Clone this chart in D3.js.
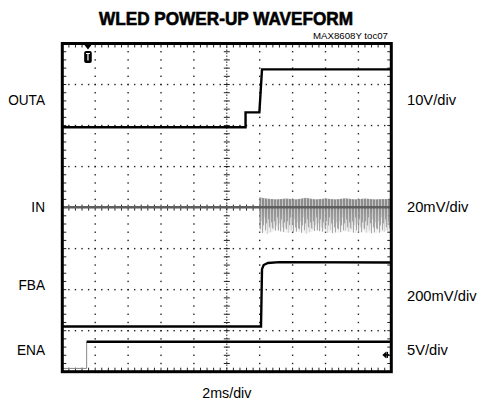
<!DOCTYPE html>
<html>
<head>
<meta charset="utf-8">
<script src="https://cdn.jsdelivr.net/npm/d3@7"></script>
<style>
  html, body { margin: 0; padding: 0; background: #fff; }
  svg { display: block; }
  text { font-family: "Liberation Sans", Arial, sans-serif; fill: #000; }
</style>
</head>
<body>
<svg id="chart" width="479" height="404"></svg>
<script>
// ---- Data (time in divisions 0..10 at 2ms/div, level in screen divisions 0..8) ----
const title = "WLED POWER-UP WAVEFORM";
const figId = "MAX8608Y toc07";
const xLabel = "2ms/div";
const channelNames = ["OUTA", "IN", "FBA", "ENA"];
const channelScales = ["10V/div", "20mV/div", "200mV/div", "5V/div"];
const channelLabelLevel = [6.64, 4.04, 2.12, 0.55];
const scaleLabelLevel = [6.64, 4.04, 1.85, 0.55];

const outaT = [0, 5.57, 5.57, 5.99, 6.07, 10];
const outaV = [5.96, 5.96, 6.32, 6.32, 7.37, 7.37];

const inT = [0, 10];
const inV = [4.01, 4.01];
const inNoiseT = [5.99, 6.2, 6.5, 6.8, 7.1, 7.4, 7.7, 8.0, 8.3, 8.6, 8.9, 9.2, 9.5, 9.8, 10];
const inNoiseHi = [4.25, 4.22, 4.2, 4.22, 4.2, 4.24, 4.2, 4.22, 4.2, 4.23, 4.2, 4.22, 4.2, 4.21, 4.2];
const inNoiseLo = [3.4, 3.35, 3.45, 3.38, 3.42, 3.36, 3.44, 3.4, 3.37, 3.43, 3.38, 3.4, 3.36, 3.42, 3.45];

const fbaT = [0, 6.04, 6.07, 6.12, 6.25, 6.6, 10];
const fbaV = [1.10, 1.10, 2.5, 2.6, 2.65, 2.67, 2.66];

const enaLowT = [0, 0.74, 0.74];
const enaLowV = [0.08, 0.08, 0.73];
const enaT = [0.74, 10];
const enaV = [0.73, 0.73];

const triggerT = 0.78;
const groundMarkerV = 0.41;

// ---- Layout ----
const svg = d3.select("#chart");
const W = 479, H = 404;
const pL = 62.3, pR = 391.3, pT = 43.5, pB = 371.7;
const x = d3.scaleLinear().domain([0, 10]).range([pL, pR]);
const y = d3.scaleLinear().domain([0, 8]).range([pB, pT]);

svg.append("rect").attr("width", W).attr("height", H).attr("fill", "#fff");

const defs = svg.append("defs");
const grad = defs.append("linearGradient").attr("id", "noiseGrad")
  .attr("x1", 0).attr("y1", 0).attr("x2", 0).attr("y2", 1);
grad.append("stop").attr("offset", "0%").attr("stop-color", "#8a8a8a").attr("stop-opacity", 0.9);
grad.append("stop").attr("offset", "40%").attr("stop-color", "#a5a5a5").attr("stop-opacity", 0.8);
grad.append("stop").attr("offset", "100%").attr("stop-color", "#e0e0e0").attr("stop-opacity", 0.3);
// irregular spike texture (style only)
const bandTop = y(4.25);
const pat = defs.append("pattern").attr("id", "spikes").attr("patternUnits", "userSpaceOnUse")
  .attr("width", 13).attr("height", 40).attr("patternTransform", `translate(0,${bandTop})`);
const spikeLen = [30, 22, 34, 26, 18, 31, 24, 35, 20, 28, 33, 23, 29];
pat.selectAll("rect").data(spikeLen).enter().append("rect")
  .attr("x", (d, i) => i).attr("y", 2).attr("width", 0.8).attr("height", d => d)
  .attr("fill", "#808080").attr("opacity", 0.8);
const pat2 = defs.append("pattern").attr("id", "gaps").attr("patternUnits", "userSpaceOnUse")
  .attr("width", 3).attr("height", 5);
pat2.append("rect").attr("x", 0).attr("y", 0).attr("width", 1).attr("height", 5).attr("fill", "#fff").attr("opacity", 0.5);

// ---- Grid ----
const grid = svg.append("g");
const minorT = d3.range(1, 50).map(k => k / 5);
const minorV = d3.range(1, 40).map(k => k / 5);
[1, 2, 3, 5, 6, 7].forEach(v => {
  grid.selectAll(null).data(minorT).enter().append("rect")
    .attr("x", d => x(d) - 0.7).attr("y", y(v) - 0.7).attr("width", 1.4).attr("height", 1.4).attr("fill", "#222");
});
[1, 2, 3, 4, 6, 7, 8, 9].forEach(t => {
  grid.selectAll(null).data(minorV).enter().append("rect")
    .attr("x", x(t) - 0.7).attr("y", d => y(d) - 0.7).attr("width", 1.4).attr("height", 1.4).attr("fill", "#222");
});
// center axes with ticks
grid.append("line").attr("x1", x(5)).attr("x2", x(5)).attr("y1", pT).attr("y2", pB)
  .attr("stroke", "#333").attr("stroke-width", 1).attr("stroke-dasharray", "1.5,1.5");
grid.selectAll(null).data(minorV).enter().append("line")
  .attr("x1", x(5) - 3).attr("x2", x(5) + 3).attr("y1", d => y(d)).attr("y2", d => y(d))
  .attr("stroke", "#222").attr("stroke-width", 1);
grid.append("line").attr("x1", pL).attr("x2", pR).attr("y1", y(4)).attr("y2", y(4))
  .attr("stroke", "#333").attr("stroke-width", 1).attr("stroke-dasharray", "1.5,1.5");
grid.selectAll(null).data(minorT).enter().append("line")
  .attr("x1", d => x(d)).attr("x2", d => x(d)).attr("y1", y(4) - 3).attr("y2", y(4) + 3)
  .attr("stroke", "#222").attr("stroke-width", 1);
// frame edge ticks
grid.selectAll(null).data(minorT).enter().append("line")
  .attr("x1", d => x(d)).attr("x2", d => x(d)).attr("y1", pT).attr("y2", pT + 4)
  .attr("stroke", "#222").attr("stroke-width", 1);
grid.selectAll(null).data(minorT).enter().append("line")
  .attr("x1", d => x(d)).attr("x2", d => x(d)).attr("y1", pB - 4).attr("y2", pB)
  .attr("stroke", "#222").attr("stroke-width", 1);
grid.selectAll(null).data(minorV).enter().append("line")
  .attr("x1", pL).attr("x2", pL + 4).attr("y1", d => y(d)).attr("y2", d => y(d))
  .attr("stroke", "#222").attr("stroke-width", 1);
grid.selectAll(null).data(minorV).enter().append("line")
  .attr("x1", pR - 4).attr("x2", pR).attr("y1", d => y(d)).attr("y2", d => y(d))
  .attr("stroke", "#222").attr("stroke-width", 1);

// ---- Traces ----
const line = d3.line().x(d => x(d[0])).y(d => y(d[1]));
const zip = (a, b) => a.map((v, i) => [v, b[i]]);

// IN noise band
const band = d3.area().x(d => x(d[0])).y0(d => y(d[2])).y1(d => y(d[1]));
const bandData = inNoiseT.map((t, i) => [t, inNoiseHi[i], inNoiseLo[i]]);
svg.append("path").attr("d", band(bandData)).attr("fill", "url(#noiseGrad)");
svg.append("path").attr("d", band(bandData)).attr("fill", "url(#spikes)");
svg.append("path").attr("d", band(bandData)).attr("fill", "url(#gaps)");
svg.append("path").attr("d", line(zip(inT, inV))).attr("fill", "none")
  .attr("stroke", "#5e5e5e").attr("stroke-width", 2.6);

svg.append("path").attr("d", line(zip(outaT, outaV))).attr("fill", "none")
  .attr("stroke", "#000").attr("stroke-width", 2.4).attr("stroke-linejoin", "miter");
svg.append("path").attr("d", line(zip(fbaT, fbaV))).attr("fill", "none")
  .attr("stroke", "#000").attr("stroke-width", 2.4);
svg.append("path").attr("d", line(zip(enaLowT, enaLowV))).attr("fill", "none")
  .attr("stroke", "#888").attr("stroke-width", 1);
svg.append("path").attr("d", line(zip(enaT, enaV))).attr("fill", "none")
  .attr("stroke", "#000").attr("stroke-width", 2.4);

// ---- Frame ----
svg.append("rect").attr("x", pL).attr("y", pT).attr("width", pR - pL).attr("height", pB - pT)
  .attr("fill", "none").attr("stroke", "#000").attr("stroke-width", 3);

// trigger marker
const tx = x(triggerT);
svg.append("path").attr("d", `M${tx - 3.5},${pT + 1.5} L${tx + 3.5},${pT + 1.5} L${tx},${pT + 6} Z`).attr("fill", "#000");
svg.append("rect").attr("x", tx - 3.8).attr("y", pT + 7.5).attr("width", 7.6).attr("height", 12).attr("rx", 2).attr("fill", "#000");
svg.append("path").attr("d", `M${tx - 2},${pT + 10} L${tx + 2},${pT + 10} M${tx},${pT + 10} L${tx},${pT + 17}`)
  .attr("stroke", "#fff").attr("stroke-width", 1.2);

// ground marker on right
const gy = y(groundMarkerV), gx = pR - 4;
svg.append("path").attr("d", `M${gx - 5},${gy} L${gx - 1},${gy - 3.5} L${gx - 1},${gy + 3.5} Z`).attr("fill", "#000");
svg.append("line").attr("x1", gx - 2).attr("x2", gx + 2).attr("y1", gy).attr("y2", gy).attr("stroke", "#000").attr("stroke-width", 1.5);
svg.append("line").attr("x1", gx).attr("x2", gx).attr("y1", gy - 3).attr("y2", gy + 3).attr("stroke", "#000").attr("stroke-width", 1.5);

// ---- Text ----
svg.append("text").attr("x", 226).attr("y", 25).attr("text-anchor", "middle")
  .attr("font-size", 18).attr("font-weight", "bold").attr("textLength", 254).attr("lengthAdjust", "spacingAndGlyphs")
  .style("stroke", "#000").style("stroke-width", 0.6).text(title);
svg.append("text").attr("x", 388).attr("y", 38.5).attr("text-anchor", "end")
  .attr("font-size", 9).attr("textLength", 75).attr("lengthAdjust", "spacingAndGlyphs").text(figId);

channelNames.forEach((n, i) => {
  svg.append("g").attr("transform", `translate(45,${y(channelLabelLevel[i]) + 5.6}) scale(0.88,1)`)
    .append("text").attr("text-anchor", "end").attr("font-size", 15.5).text(n);
});
channelScales.forEach((n, i) => {
  svg.append("g").attr("transform", `translate(407,${y(scaleLabelLevel[i]) + 5.6}) scale(0.95,1)`)
    .append("text").attr("text-anchor", "start").attr("font-size", 15.5).text(n);
});
svg.append("g").attr("transform", `translate(${x(5)},398) scale(0.92,1)`)
  .append("text").attr("text-anchor", "middle").attr("font-size", 15.5).text(xLabel);
</script>
</body>
</html>
